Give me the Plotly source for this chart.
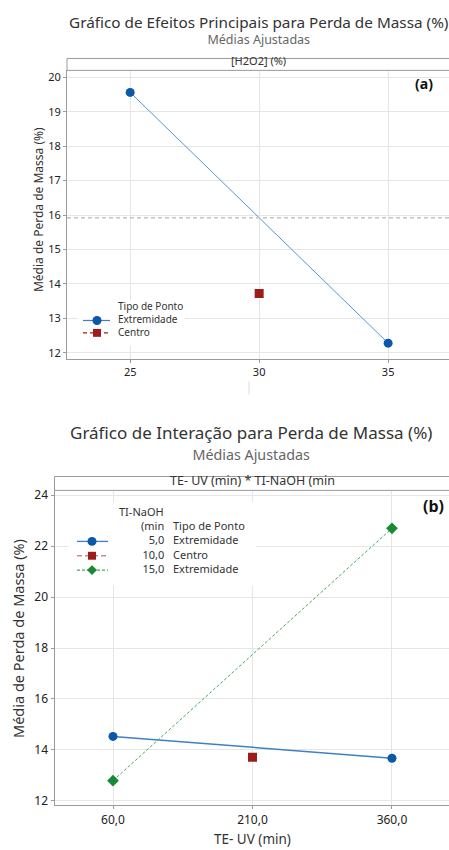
import plotly.graph_objects as go

# ---------------- Data ----------------
# Panel (a): main effects of [H2O2] (%)
h2o2_levels = [25, 35]
h2o2_extremidade = [19.56, 12.28]
h2o2_centro_x = [30]
h2o2_centro_y = [13.72]
h2o2_grand_mean = 15.92
a_xticks = [25, 30, 35]
a_yticks = [12, 13, 14, 15, 16, 17, 18, 19, 20]

# Panel (b): interaction TE-UV (min) * TI-NaOH (min)
teuv_levels = [60, 360]
naoh_5 = [14.53, 13.67]
naoh_15 = [12.79, 22.70]
teuv_centro_x = [210]
naoh_10_centro = [13.71]
b_xticks = [60, 210, 360]
b_xticklabels = ["60,0", "210,0", "360,0"]
b_yticks = [12, 14, 16, 18, 20, 22, 24]

legend_a_title = "Tipo de Ponto"
legend_a_labels = ["Extremidade", "Centro"]
legend_b_title = ["TI-NaOH", "(min", "Tipo de Ponto"]
legend_b_levels = ["5,0", "10,0", "15,0"]
legend_b_types = ["Extremidade", "Centro", "Extremidade"]

# ---------------- Style ----------------
W, H = 449, 850
FONT = "Noto Sans"
BLUE = "#0b57a8"
BLUE_LINE = "#3f7fc8"
BLUE_LINE_A = "#5a93d6"
RED = "#9c1c1c"
GREEN = "#168a34"
GREEN_LINE = "#4aa85a"
GRID = "#e6e6e6"
AXIS = "#9a9a9a"
TXT = "#333333"
DY = -4  # vertical correction for annotation text placement


def px(x):
    return x / W


def py(y):
    return 1 - y / H


fig = go.Figure()

# Panel (a) traces
fig.add_trace(go.Scatter(x=h2o2_levels, y=h2o2_extremidade, mode="lines+markers",
                         line=dict(color=BLUE_LINE_A, width=1),
                         marker=dict(color=BLUE, size=9, symbol="circle"),
                         xaxis="x", yaxis="y", showlegend=False))
fig.add_trace(go.Scatter(x=h2o2_centro_x, y=h2o2_centro_y, mode="markers",
                         marker=dict(color=RED, size=9, symbol="square"),
                         xaxis="x", yaxis="y", showlegend=False))

# Panel (b) traces
fig.add_trace(go.Scatter(x=teuv_levels, y=naoh_5, mode="lines+markers",
                         line=dict(color=BLUE_LINE, width=1.5),
                         marker=dict(color=BLUE, size=9, symbol="circle"),
                         xaxis="x2", yaxis="y2", showlegend=False))
fig.add_trace(go.Scatter(x=teuv_centro_x, y=naoh_10_centro, mode="markers",
                         marker=dict(color=RED, size=9, symbol="square"),
                         xaxis="x2", yaxis="y2", showlegend=False))
fig.add_trace(go.Scatter(x=teuv_levels, y=naoh_15, mode="lines+markers",
                         line=dict(color=GREEN_LINE, width=1, dash="3px,2px"),
                         marker=dict(color=GREEN, size=9, symbol="diamond"),
                         xaxis="x2", yaxis="y2", showlegend=False))

tickfont_a = dict(family=FONT, size=11, color="#222222")
tickfont_b = dict(family=FONT, size=12, color="#222222")
common_axis = dict(showline=True, linecolor=AXIS, linewidth=1, showgrid=True,
                   gridcolor=GRID, gridwidth=1, zeroline=False, ticks="outside",
                   ticklen=3, tickcolor=AXIS, fixedrange=True)

fig.update_layout(
    width=W, height=H,
    margin=dict(l=0, r=0, t=0, b=0),
    paper_bgcolor="white", plot_bgcolor="white",
    showlegend=False,
    xaxis=dict(domain=[px(67), 1], range=[22.55, 37.36], tickvals=a_xticks,
               tickfont=tickfont_a, anchor="y", **common_axis),
    yaxis=dict(domain=[py(358), py(67)], range=[11.83, 20.2], tickvals=a_yticks,
               tickfont=tickfont_a, anchor="x", **common_axis),
    xaxis2=dict(domain=[px(54.5), 1], range=[-2.9, 421.3], tickvals=b_xticks,
                ticktext=b_xticklabels, tickfont=tickfont_b, anchor="y2", **common_axis),
    yaxis2=dict(domain=[py(809), py(491)], range=[11.82, 24.19], tickvals=b_yticks,
                tickfont=tickfont_b, anchor="x2", **common_axis),
)

shapes = []
# Grand mean reference line (a)
shapes.append(dict(type="line", xref="x domain", yref="y", x0=0, x1=1,
                   y0=h2o2_grand_mean, y1=h2o2_grand_mean,
                   line=dict(color="#c4c4c4", width=1.5, dash="4px,3px")))
# Strips
shapes.append(dict(type="rect", xref="paper", yref="paper", x0=px(67), x1=px(452),
                   y0=py(67), y1=py(55), fillcolor="white",
                   line=dict(color=AXIS, width=1)))
shapes.append(dict(type="rect", xref="paper", yref="paper", x0=px(54.5), x1=px(452),
                   y0=py(491), y1=py(477), fillcolor="white",
                   line=dict(color=AXIS, width=1)))
# small artifact line below panel (a)
shapes.append(dict(type="line", xref="paper", yref="paper", x0=px(249), x1=px(249),
                   y0=py(381), y1=py(394), line=dict(color="#dddddd", width=1)))

# Legend backgrounds
shapes.append(dict(type="rect", xref="paper", yref="paper", x0=px(78), x1=px(185),
                   y0=py(345), y1=py(299), fillcolor="white", line=dict(width=0),
                   layer="above"))
shapes.append(dict(type="rect", xref="paper", yref="paper", x0=px(68), x1=px(256),
                   y0=py(587), y1=py(503), fillcolor="white", line=dict(width=0),
                   layer="above"))

annotations = []


def legend_key(cx, cy, x0, x1, color, dash, symbol, mcolor, lw=1.2, r=4.5):
    shapes.append(dict(type="line", xref="paper", yref="paper", x0=px(x0), x1=px(x1),
                       y0=py(cy), y1=py(cy), layer="above",
                       line=dict(color=color, width=lw, dash=dash)))
    if symbol == "circle":
        shapes.append(dict(type="circle", xref="paper", yref="paper", x0=px(cx - r),
                           x1=px(cx + r), y0=py(cy + r), y1=py(cy - r), layer="above",
                           fillcolor=mcolor, line=dict(color=mcolor, width=0)))
    elif symbol == "square":
        s = r - 0.5
        shapes.append(dict(type="rect", xref="paper", yref="paper", x0=px(cx - s),
                           x1=px(cx + s), y0=py(cy + s), y1=py(cy - s), layer="above",
                           fillcolor=mcolor, line=dict(color=mcolor, width=0)))
    else:
        d = r + 0.5
        path = (f"M {px(cx)} {py(cy - d)} L {px(cx + d)} {py(cy)} "
                f"L {px(cx)} {py(cy + d)} L {px(cx - d)} {py(cy)} Z")
        shapes.append(dict(type="path", xref="paper", yref="paper", path=path,
                           layer="above", fillcolor=mcolor,
                           line=dict(color=mcolor, width=0)))


def text(x, y, s, size, color=TXT, xanchor="center", bold=False, angle=0,
         yanchor="middle", align="center"):
    annotations.append(dict(x=px(x), y=py(y + DY), xref="paper", yref="paper",
                            text=f"<b>{s}</b>" if bold else s, showarrow=False,
                            xanchor=xanchor, yanchor=yanchor, textangle=angle,
                            align=align, borderpad=0,
                            font=dict(family=FONT, size=size, color=color)))


# Legend (a): keys + one multi-line text block
legend_key(97, 319.5, 83, 110, BLUE_LINE, "solid", "circle", BLUE)
legend_key(97, 332, 83, 110, RED, "4px,3px", "square", RED)
text(117, 301, "<br>".join([legend_a_title] + legend_a_labels), 10,
     xanchor="left", yanchor="top", align="left")

# Legend (b)
b_keys = [(BLUE_LINE, "solid", "circle", BLUE),
          ("#c98a8a", "5px,3px", "square", RED),
          (GREEN_LINE, "3px,2px", "diamond", GREEN)]
b_rows = [542.5, 557, 571.5]
for (lc, dash, sym, mc), yy in zip(b_keys, b_rows):
    legend_key(92, yy, 77, 108, lc, dash, sym, mc, lw=1.3)
text(118, 508, legend_b_title[0], 11, xanchor="left", yanchor="top")
text(165, 522, "<br>".join([legend_b_title[1]] + legend_b_levels), 11,
     xanchor="right", yanchor="top", align="right")
text(172, 522, "<br>".join([legend_b_title[2]] + legend_b_types), 11,
     xanchor="left", yanchor="top", align="left")

# Titles (title + subtitle in one block each)
text(258, 30,
     "<span style='font-size:15.3px;color:#333333'>Gráfico de Efeitos Principais para Perda de Massa (%)</span>"
     "<br>Médias Ajustadas", 12.5, color="#666666")
text(258, 61, "[H2O2] (%)", 11, color=TXT)
text(424, 84, "(a)", 14, color="#111111", bold=True)
text(38, 212, "Média de Perda de Massa (%)", 12, color=TXT, angle=-90)

text(251, 447,
     "<span style='font-size:17px;color:#333333'>Gráfico de Interação para Perda de Massa (%)</span>"
     "<br><span style='font-size:14.3px'>Médias Ajustadas</span>", 16, color="#666666")
text(252, 485, "TE- UV (min) * TI-NaOH (min", 12.5, color=TXT)
text(433, 511, "(b)", 16, color="#111111", bold=True)
text(18, 645, "Média de Perda de Massa (%)", 14.5, color=TXT, angle=-90)
text(252, 847, "TE- UV (min)", 13.5, color=TXT)

fig.update_layout(shapes=shapes, annotations=annotations)
fig.write_html("out.html")
